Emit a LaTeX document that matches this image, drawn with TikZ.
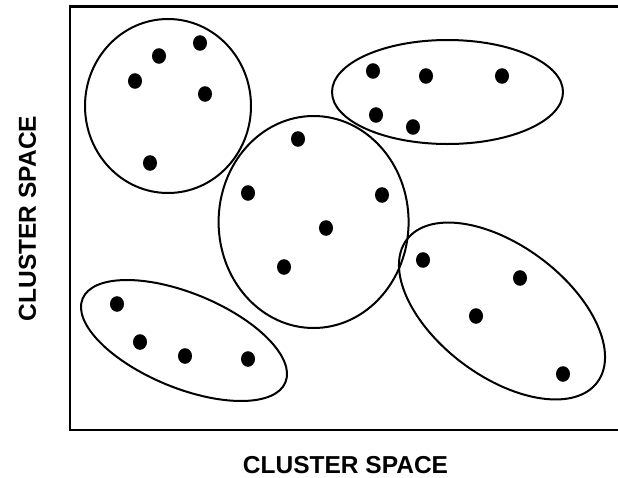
\documentclass[tikz,border=0pt]{standalone}
\usepackage{fontspec}
\setmainfont{Liberation Sans}
\usepackage{tikz}
\tikzset{
  framebox/.style={line width=2.4pt},
  clusterline/.style={line width=2pt},
  pointdot/.style={fill=black},
  spacelabel/.style={font=\fontsize{24.5}{28}\selectfont\bfseries, inner sep=0pt}
}

\begin{document}
\begin{tikzpicture}[x=1pt,y=-1pt]
\useasboundingbox (0,0) rectangle (618,477);
% frame, open at the right
\draw[framebox] (618,6.5) -- (70,6.5) -- (70,430) -- (618,430);
\node[spacelabel] (xlabel) at (345.5,465) {CLUSTER SPACE};
\node[spacelabel,rotate=90] (ylabel) at (27.5,218.5) {CLUSTER SPACE};
% clusters
\draw[clusterline] (168,106) ellipse (83pt and 87pt);
\draw[clusterline] (447.5,92) ellipse (115.5pt and 52pt);
\draw[clusterline] (313.6,222) ellipse (95pt and 106pt);
\draw[clusterline,rotate around={-22.4:(184,340.5)}] (184,340.5) ellipse (109.7pt and 47.3pt);
\draw[clusterline,rotate around={-36.8:(502,311)}] (502,311) ellipse (119pt and 65.4pt);
% points
\foreach \px/\py in {159/56,200/43,135/81,205/94,150/163,
                     373/71,426/76,502/76,376/115,413/127,
                     298/139,248/193,382/195,326/228,284/267,
                     117/304,140/342,185/356,248/359,
                     423/260,520/278,476/316,563/374}
  \fill[pointdot] (\px,\py) ellipse (7pt and 7.8pt);
\end{tikzpicture}
\end{document}
